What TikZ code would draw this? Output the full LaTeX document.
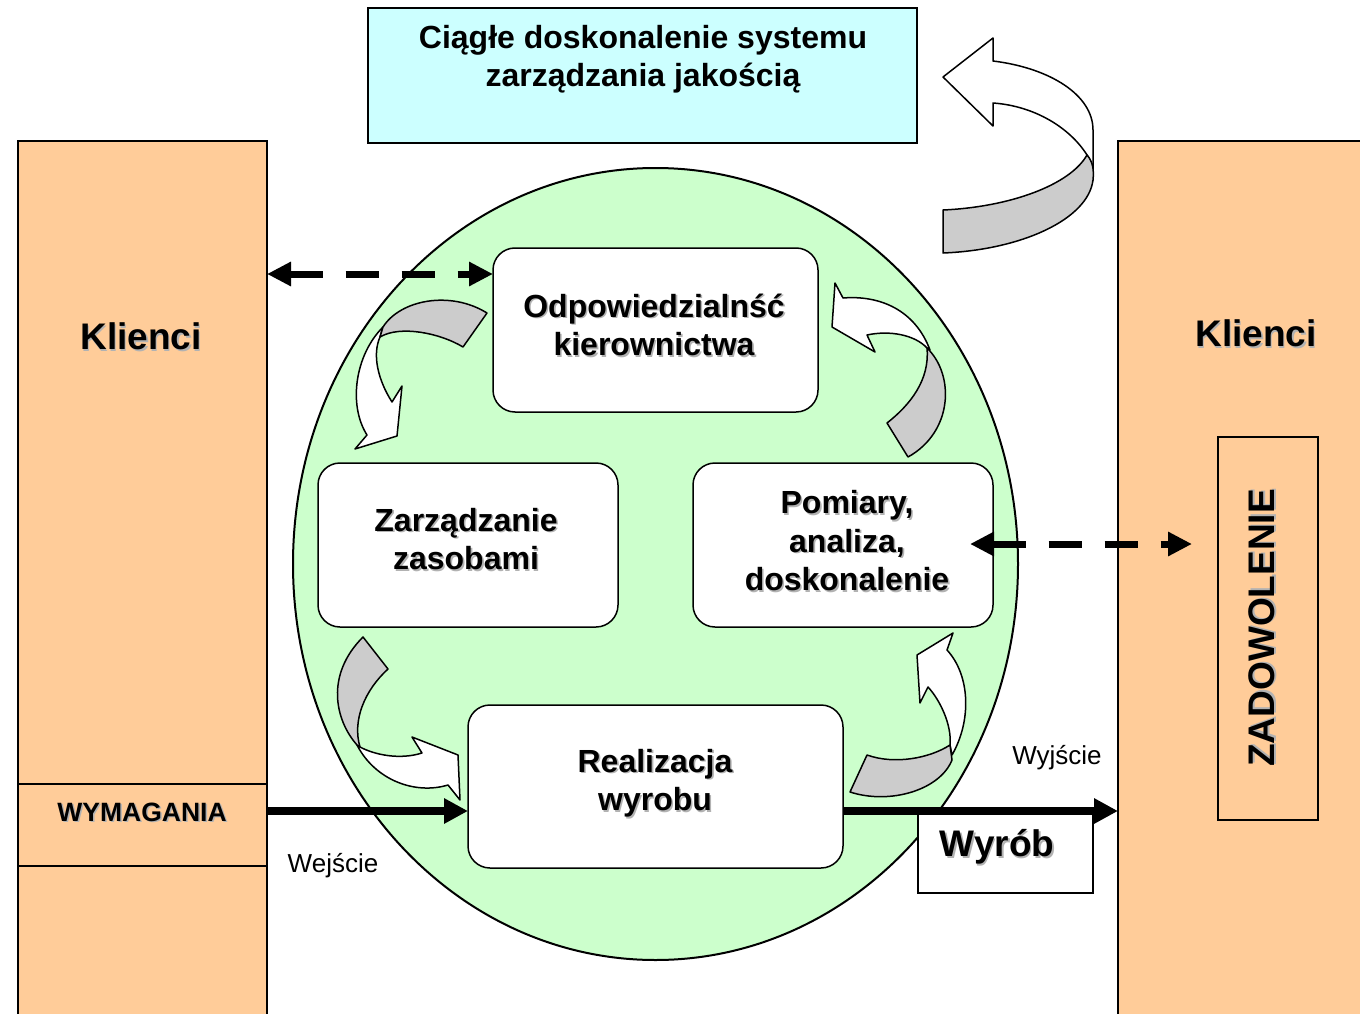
\documentclass[tikz,border=0pt]{standalone}
\usepackage{fontspec}
\setmainfont{Liberation Sans}
\usetikzlibrary{arrows.meta}
\definecolor{peach}{HTML}{FFCC99}
\definecolor{mint}{HTML}{CCFFCC}
\definecolor{icecyan}{HTML}{CCFFFF}
\definecolor{ribbon}{HTML}{CCCCCC}
% bold text with a soft grey drop shadow
\newcommand\shd[1]{\leavevmode\rlap{\kern1.6pt\raisebox{-1.6pt}{\color{black!30}#1}}#1}
\begin{document}
\begin{tikzpicture}[x=1pt,y=-1pt,
  col/.style={draw=black, line width=1.5pt, fill=peach, outer sep=0pt},
  procbox/.style={draw=black, line width=1.5pt, fill=white, rounded corners=22pt, outer sep=0pt},
  boxtext/.style={align=center, font=\fontsize{32}{38.5}\selectfont\bfseries},
  bigtext/.style={font=\fontsize{37}{40}\selectfont\bfseries},
  smalltext/.style={font=\fontsize{26}{30}\selectfont},
  ribbonfront/.style={draw=black, fill=white, line width=1.5pt, line join=round},
  ribbonback/.style={draw=black, fill=ribbon, line width=1.5pt, line join=round},
  dasharrow/.style={line width=7pt, dash pattern=on 33pt off 23pt,
    {Triangle[length=24pt,width=23pt]}-{Triangle[length=24pt,width=23pt]}},
  flowarrow/.style={line width=7.5pt, -{Triangle[length=24pt,width=24pt]}},
]
\useasboundingbox (0,0) rectangle (1360,1014);
\clip (0,0) rectangle (1360,1014);
\fill[white] (0,0) rectangle (1360,1014);

% customer columns
\node[col, anchor=north west, minimum width=249pt, minimum height=900pt] (lcol) at (18,141) {};
\node[col, anchor=north west, minimum width=270pt, minimum height=900pt] (rcol) at (1118,141) {};
\node[col, anchor=north west, minimum width=249pt, minimum height=82pt] (req) at (18,784) {};
\node[draw=black, line width=1.5pt, anchor=north west, minimum width=100pt, minimum height=383pt, outer sep=0pt] (satbox) at (1218,437) {};

% continual improvement banner
\node[draw=black, line width=1.5pt, fill=icecyan, anchor=north west, minimum width=549pt, minimum height=135pt, outer sep=0pt] (banner) at (368,8) {};
\node[align=center, font=\fontsize{32}{37.5}\selectfont\bfseries] (bannertext) at (643,59) {Ciągłe doskonalenie systemu\\zarządzania jakością};

% process ellipse
\draw[fill=mint, line width=2pt] (655.5,564) ellipse [x radius=362.5, y radius=396];

% process boxes
\node[procbox, minimum width=325pt, minimum height=164pt] (odp) at (655.5,330) {};
\node[procbox, minimum width=300pt, minimum height=164pt] (zas) at (468,545) {};
\node[procbox, minimum width=300pt, minimum height=164pt] (pom) at (843,545) {};
\node[procbox, minimum width=375pt, minimum height=163pt] (real) at (655.5,786.5) {};

\node[boxtext] (odpt) at (654,325.5) {\shd{Odpowiedzialnść}\\\shd{kierownictwa}};
\node[boxtext] (zast) at (466,540) {\shd{Zarządzanie}\\\shd{zasobami}};
\node[boxtext] (pomt) at (847,541.5) {\shd{Pomiary,}\\\shd{analiza,}\\\shd{doskonalenie}};
\node[boxtext] (realt) at (655,784) {\shd{Realizacja}\\\shd{wyrobu}};

% big curved arrow beside the banner
\draw[ribbonfront] (1087,155) .. controls (1070,128) and (1035,106) .. (993,103) -- (993,126) -- (943,77) -- (993,38) -- (993,61)
  .. controls (1050,68) and (1093,95) .. (1093,130) -- (1093,180) .. controls (1093,168) and (1091,160) .. (1087,155) -- cycle;
\draw[ribbonback] (943,210) .. controls (1010,207) and (1070,185) .. (1087,155) .. controls (1093,162) and (1094,170) .. (1093,180)
  .. controls (1088,220) and (1020,250) .. (943,253) -- cycle;

% cycle arrows inside the ellipse
% top left
\draw[ribbonfront] (383,327) .. controls (355,355) and (348,405) .. (367,435) -- (355,449) -- (397,436) -- (402,386) -- (392,402)
  .. controls (378,380) and (372,355) .. (380,337) -- cycle;
\draw[ribbonback] (487,313) -- (463,347) .. controls (440,333) and (400,325) .. (380,337) -- (383,327)
  .. controls (400,300) and (450,290) .. (487,313) -- cycle;
% top right
\draw[ribbonfront] (930,350) .. controls (915,310) and (880,295) .. (843,298) -- (835,283) -- (832,327) -- (875,352) -- (867,335)
  .. controls (890,330) and (915,335) .. (927,348) -- cycle;
\draw[ribbonback] (927,348) .. controls (955,375) and (953,432) .. (908,457) -- (887,423)
  .. controls (910,405) and (930,380) .. (927,348) -- cycle;
% bottom left
\draw[ribbonfront] (357,745) .. controls (375,780) and (415,795) .. (448,785) -- (460,800) -- (458,755) -- (412,737) -- (422,753)
  .. controls (400,760) and (375,755) .. (360,747) -- cycle;
\draw[ribbonback] (363,637) -- (388,669) .. controls (365,690) and (352,720) .. (360,747) -- (357,745)
  .. controls (335,720) and (325,675) .. (363,637) -- cycle;
% bottom right
\draw[ribbonfront] (952,755) .. controls (972,720) and (970,675) .. (947,650) -- (953,633) -- (917,655) -- (920,703) -- (928,687)
  .. controls (940,700) and (952,725) .. (950,745) -- cycle;
\draw[ribbonback] (867,755) -- (850,792) .. controls (890,805) and (940,790) .. (952,760) -- (950,745)
  .. controls (930,758) and (895,765) .. (867,755) -- cycle;

% feedback and flow connectors
\coordinate (fbtop) at (0,274);
\coordinate (fbleft) at (970,544);
\coordinate (fbright) at (1192,544);
\coordinate (flow) at (0,811);
\draw[dasharrow] (lcol.east |- fbtop) -- (odp.west |- fbtop);
\draw[dasharrow] (fbleft) -- (fbright);
\draw[flowarrow] (lcol.east |- flow) -- (real.west |- flow);
\draw[flowarrow] (real.east |- flow) -- (rcol.west |- flow);

% product box
\node[draw=black, line width=1.5pt, fill=white, anchor=north west, minimum width=175pt, minimum height=79pt, outer sep=0pt] (prod) at (918,814) {};
\node[bigtext] (prodt) at (997,848) {\shd{Wyrób}};

% labels
\node[bigtext] (kl) at (141,337) {\shd{Klienci}};
\node[bigtext] (kr) at (1256,334) {\shd{Klienci}};
\node[font=\fontsize{26.5}{30}\selectfont\bfseries] (reqt) at (142,813) {\shd{WYMAGANIA}};
\node[bigtext, rotate=90] (satt) at (1263,628) {\shd{ZADOWOLENIE}};
\node[smalltext] (inl) at (333,866) {Wejście};
\node[smalltext] (outl) at (1057,758) {Wyjście};
\end{tikzpicture}
\end{document}
